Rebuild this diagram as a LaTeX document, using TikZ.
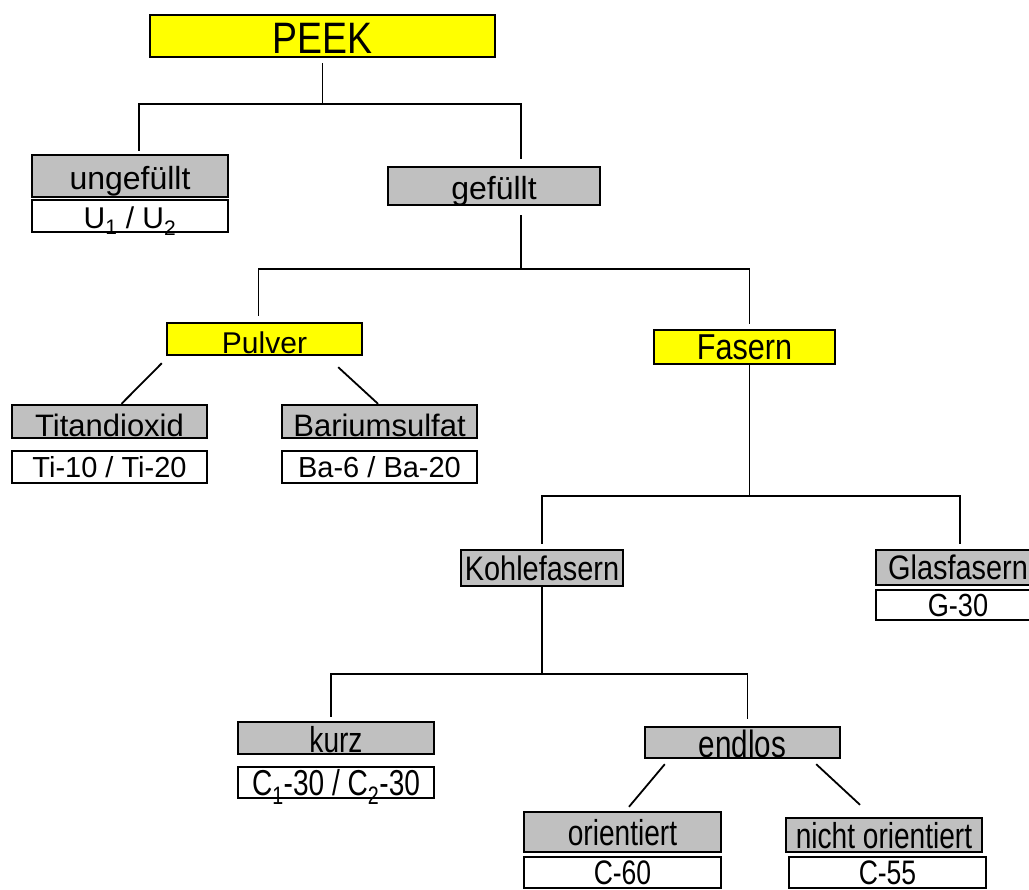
\documentclass[tikz,border=0pt]{standalone}
\usepackage{fontspec}
\setmainfont{Liberation Sans}[FakeStretch=0.85]
\newfontfamily\widefont{Liberation Sans}
\newfontfamily\narrowfont{Liberation Sans}[FakeStretch=0.78]
\definecolor{hl}{RGB}{255,255,0}
\definecolor{gr}{RGB}{192,192,192}

\begin{document}
\begin{tikzpicture}[
    x=1pt, y=-1pt,
    l/.style={
        line width=1.8pt
    },
    boxed/.style={
        draw, line width=2.4pt, inner sep=0pt, text depth=0pt
    },
    yel/.style={boxed, fill=hl},
    grey/.style={boxed, fill=gr},
    cbox/.style={boxed, fill=white},
    bs/.style 2 args={minimum width=#1, minimum height=#2},
    th/.style={text height=#1},
    fw/.style={font=\widefont\fontsize{#1}{#1}\selectfont},
    fm/.style={font=\fontsize{#1}{#1}\selectfont},
    fn/.style={font=\narrowfont\fontsize{#1}{#1}\selectfont}
]
    \useasboundingbox (0,0) rectangle (1029,890);

    \node [yel,  fm=44, th=36, bs={345}{42}] (peek)       at (322.5, 36)  {PEEK};
    \node [grey, fw=32, th=28, bs={196}{42}] (ungefuellt) at (130  , 176) {ungefüllt};
    \node [cbox, fw=30, th=26, bs={196}{32}] (u12)        at (130  , 216) {U\textsubscript{1} / U\textsubscript{2}};
    \node [grey, fw=32, th=28, bs={212}{38}] (gefuellt)   at (494  , 186) {gefüllt};
    \node [yel,  fw=30, th=30, bs={195}{32}] (pulver)     at (264.5, 339) {Pulver};
    \node [grey, fw=31, th=30, bs={195}{33}] (titan)      at (109.5, 421.5) {Titandioxid};
    \node [cbox, fw=29,        bs={195}{32}] (ti)         at (109.5, 467) {Ti-10 / Ti-20};
    \node [grey, fw=31, th=30, bs={195}{33}] (barium)     at (379.5, 421.5) {Bariumsulfat};
    \node [cbox, fw=29,        bs={195}{32}] (ba)         at (379.5, 467) {Ba-6 / Ba-20};
    \node [yel,  fm=36,        bs={181}{34}] (fasern)     at (744.5, 347) {Fasern};
    \node [grey, fm=34,        bs={162}{36}] (kohle)      at (542  , 568) {Kohlefasern};
    \node [grey, fm=34,        bs={164}{35}] (glas)       at (958  , 567.5) {Glasfasern};
    \node [cbox, fm=32,        bs={164}{30}] (g30)        at (958  , 605) {G-30};
    \node [grey, fn=36, th=28, bs={196}{32}] (kurz)       at (336  , 738) {kurz};
    \node [cbox, fn=36,        bs={196}{31}] (c30)        at (336  , 782.5) {C\textsubscript{1}-30 / C\textsubscript{2}-30};
    \node [grey, fn=38, th=29, bs={195}{31}] (endlos)     at (742.5, 742.5) {endlos};
    \node [grey, fn=36,        bs={197}{40}] (orient)     at (622.5, 832) {orientiert};
    \node [cbox, fn=34,        bs={197}{31}] (c60)        at (622.5, 872.5) {C-60};
    \node [grey, fn=36,        bs={196}{34}] (nicht)      at (884  , 835) {nicht orientiert};
    \node [cbox, fn=34,        bs={197}{31}] (c55)        at (887.5, 872.5) {C-55};

    % tees
    \draw [l] ([yshift=-5pt]peek.south) -- ++(0,41) -| ([xshift=9pt,yshift=3pt]ungefuellt.north);
    \draw [l] ([yshift=-5pt]peek.south) ++(0,41) -| ([xshift=27pt,yshift=7pt]gefuellt.north);
    \draw [l] ([xshift=27pt,yshift=-9pt]gefuellt.south) -- ++(0,54) -| ([xshift=-6pt,yshift=6pt]pulver.north);
    \draw [l] ([xshift=27pt,yshift=-9pt]gefuellt.south) ++(0,54) -| ([xshift=5pt,yshift=5pt]fasern.north);
    \draw [l] ([xshift=5pt]fasern.south) -- ++(0,131) -| ([yshift=5pt]kohle.north);
    \draw [l] ([xshift=5pt]fasern.south) ++(0,131) -| ([xshift=2pt,yshift=5pt]glas.north);
    \draw [l] (kohle.south) -- ++(0,87) -| ([xshift=-5pt,yshift=4pt]kurz.north);
    \draw [l] (kohle.south) ++(0,87) -| ([xshift=5pt,yshift=7pt]endlos.north);

    % diagonals
    \draw [l] ([xshift=-4pt,yshift=-7pt]pulver.south west) -- ([xshift=12pt]titan.north);
    \draw [l] ([xshift=-25pt,yshift=-11pt]pulver.south east) -- ([xshift=-1.5pt]barium.north);
    \draw [l] ([xshift=21pt,yshift=-5pt]endlos.south west) -- ([xshift=6.5pt,yshift=4pt]orient.north);
    \draw [l] ([xshift=-25pt,yshift=-5pt]endlos.south east) -- ([xshift=-24pt,yshift=12pt]nicht.north);

\end{tikzpicture}
\end{document}
